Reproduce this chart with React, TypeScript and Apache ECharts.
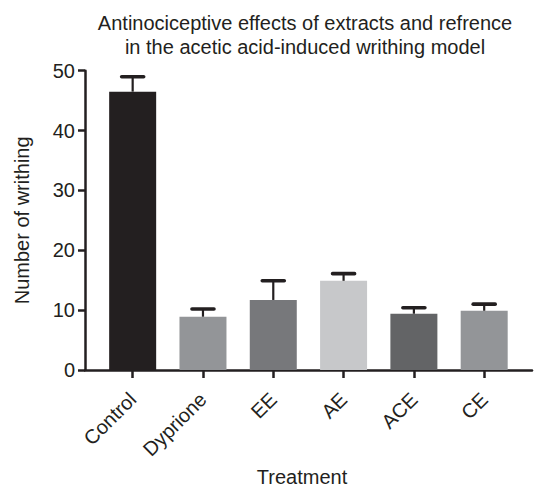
import React, { useEffect, useRef } from "react";
import * as echarts from "echarts";

const categories = ["Control", "Dyprione", "EE", "AE", "ACE", "CE"];
const means = [46.5, 8.9, 11.7, 14.9, 9.4, 9.9];
const errors = [2.5, 1.3, 3.2, 1.2, 1.0, 1.1];
const barColors = ["#231f20", "#939598", "#77787b", "#c7c8ca", "#636466", "#939598"];
const yTicks = [0, 10, 20, 30, 40, 50];

const INK = "#231f20";
const FONT = "'Liberation Sans', Arial, sans-serif";

export default function App() {
  const ref = useRef<HTMLDivElement>(null);
  useEffect(() => {
    if (!ref.current) return;
    const chart = echarts.init(ref.current, undefined, { renderer: "svg" });
    const idx = categories.map((_, i) => i);
    chart.setOption({
      animation: false,
      backgroundColor: "#ffffff",
      textStyle: { fontFamily: FONT },
      title: {
        text: "Antinociceptive effects of extracts and refrence\nin the acetic acid-induced writhing model",
        left: 300,
        top: 6,
        textAlign: "center",
        textStyle: {
          fontFamily: FONT,
          fontSize: 20,
          fontWeight: "normal",
          color: INK,
          lineHeight: 24,
        },
      },
      grid: {
        left: 85,
        right: 7,
        top: 70.7,
        bottom: 117,
        containLabel: false,
        outerBoundsMode: "none",
      },
      xAxis: {
        type: "value",
        min: -0.678,
        max: 5.68,
        name: "Treatment",
        nameLocation: "middle",
        nameGap: 93,
        nameTextStyle: {
          fontFamily: FONT,
          fontSize: 20,
          lineHeight: 20,
          color: INK,
          padding: [0, 13, 0, 0],
        },
        splitLine: { show: false },
        axisLine: { show: true, onZero: false, lineStyle: { color: INK, width: 2.5 } },
        axisTick: {
          show: true,
          customValues: idx,
          length: 8,
          lineStyle: { color: INK, width: 2.5 },
        },
        axisLabel: {
          customValues: idx,
          rotate: 45,
          margin: 26,
          fontFamily: FONT,
          fontSize: 20,
          color: INK,
          formatter: (v: number) => categories[Math.round(v)] ?? "",
        },
      },
      yAxis: {
        type: "value",
        min: 0,
        max: 50,
        interval: 10,
        name: "Number of writhing",
        nameLocation: "middle",
        nameGap: 53,
        nameTextStyle: { fontFamily: FONT, fontSize: 20, color: INK },
        splitLine: { show: false },
        axisLine: { show: true, onZero: false, lineStyle: { color: INK, width: 2.5 } },
        axisTick: { show: true, length: 7, lineStyle: { color: INK, width: 2.5 } },
        axisLabel: {
          margin: 10,
          fontFamily: FONT,
          fontSize: 20,
          color: INK,
          customValues: yTicks,
        },
      },
      series: [
        {
          type: "bar",
          barWidth: 47,
          data: means.map((v, i) => ({
            value: [i, v],
            itemStyle: { color: barColors[i] },
          })),
        },
        {
          type: "custom",
          data: means.map((v, i) => [i, v, v + errors[i]]),
          renderItem: (params: any, api: any) => {
            const x = api.value(0);
            const base = api.coord([x, api.value(1)]);
            const top = api.coord([x, api.value(2)]);
            const half = 11;
            return {
              type: "group",
              children: [
                {
                  type: "line",
                  shape: { x1: base[0], y1: base[1], x2: top[0], y2: top[1] },
                  style: { stroke: INK, lineWidth: 2.2 },
                },
                {
                  type: "line",
                  shape: { x1: top[0] - half, y1: top[1], x2: top[0] + half, y2: top[1] },
                  style: { stroke: INK, lineWidth: 3.6, lineCap: "round" },
                },
              ],
            };
          },
          z: 3,
        },
      ],
    });
    return () => chart.dispose();
  }, []);
  return (
    <div
      ref={ref}
      style={{ position: "fixed", left: 0, top: 0, width: 539, height: 487 }}
    />
  );
}
